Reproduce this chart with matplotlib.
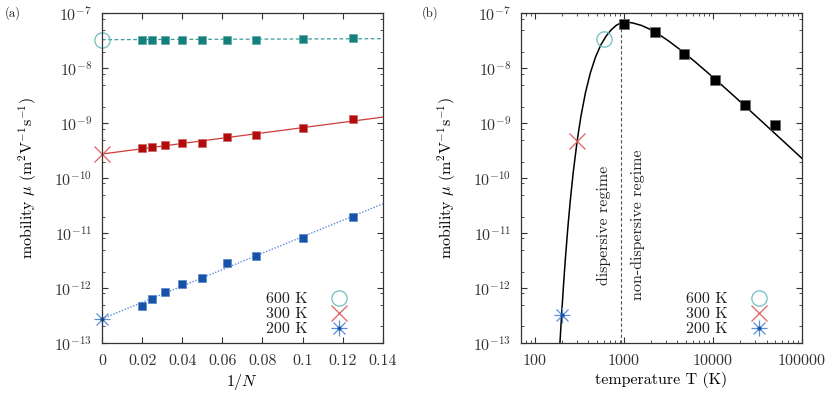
import numpy as np
import matplotlib
matplotlib.use('Agg')
import matplotlib.pyplot as plt
from matplotlib.ticker import NullFormatter, NullLocator, FixedLocator, FixedFormatter
from matplotlib.legend_handler import HandlerTuple
from matplotlib.lines import Line2D

plt.rcParams.update({
    'font.family': 'serif',
    'font.serif': ['cmr10'],
    'mathtext.fontset': 'cm',
    'axes.formatter.use_mathtext': True,
    'font.size': 11.5,
    'axes.linewidth': 0.9,
    'axes.edgecolor': '#333333',
    'text.color': '#222222',
    'xtick.color': '#333333',
    'ytick.color': '#333333',
})

# ---------------- data: panel (a) ----------------
inv_N = [0.02, 0.025, 0.03125, 0.04, 0.05, 0.0625, 0.0769, 0.1, 0.125]
mu_600 = [3.31e-8, 3.31e-8, 3.31e-8, 3.33e-8, 3.27e-8, 3.31e-8, 3.31e-8, 3.45e-8, 3.5e-8]
mu_300 = [3.47e-10, 3.66e-10, 3.96e-10, 4.44e-10, 4.4e-10, 5.5e-10, 6.1e-10, 8.2e-10, 1.17e-9]
mu_200 = [4.7e-13, 6.3e-13, 8.3e-13, 1.2e-12, 1.52e-12, 2.8e-12, 3.8e-12, 8.0e-12, 1.94e-11]
fit_x = [0.0, 0.14]
fit_600 = [3.31e-8, 3.45e-8]
fit_300 = [2.75e-10, 1.29e-9]
fit_200 = [2.75e-13, 3.4e-11]
extrap_600 = 3.25e-8
extrap_300 = 2.75e-10
extrap_200 = 2.75e-13
xtick_vals_a = [0, 0.02, 0.04, 0.06, 0.08, 0.1, 0.12, 0.14]
xtick_labels_a = ['0', '0.02', '0.04', '0.06', '0.08', '0.1', '0.12', '0.14']

# ---------------- data: panel (b) ----------------
T_sim = [1000, 2220, 4790, 10500, 22700, 50000]
mu_sim = [6.4e-8, 4.5e-8, 1.82e-8, 6.1e-9, 2.15e-9, 9.3e-10]
T_marks = [600, 300, 200]
mu_marks = [3.4e-8, 4.8e-10, 3.27e-13]
curve_T = [190, 195, 200, 210, 220, 235, 250, 270, 300, 330, 370, 420, 480, 550,
           630, 720, 820, 871, 933, 1000, 1072, 1148, 1259, 1585, 1995, 2512,
           3162, 4467, 6310, 10000, 15849, 25119, 39811, 63096, 100000]
curve_log_mu = [-13.108, -12.785, -12.485, -11.950, -11.486, -10.900, -10.417,
                -9.896, -9.304, -8.869, -8.449, -8.087, -7.799, -7.579, -7.418,
                -7.302, -7.220, -7.196, -7.178, -7.168, -7.165, -7.167, -7.176,
                -7.222, -7.296, -7.391, -7.501, -7.684, -7.883, -8.163, -8.452,
                -8.747, -9.044, -9.342, -9.641]
T_transition = 940
xtick_vals_b = [100, 1000, 10000, 100000]
xtick_labels_b = ['100', '1000', '10000', '100000']
ytick_exps = [-13, -12, -11, -10, -9, -8, -7]

c_teal_sq = '#13807b'
c_teal_ln = '#3a9c9a'
c_teal_mk = '#6cbfc0'
c_red_sq = '#b00c0c'
c_red_ln = '#d03a3a'
c_red_mk = '#e06060'
c_blue_sq = '#1653a8'
c_blue_ln = '#5a8ad8'
c_blue_mk = '#5b8fd8'

fig = plt.figure(figsize=(8.3, 3.96), dpi=100)
W, H = 830.0, 396.0
axa = fig.add_axes([102 / W, 1 - 343 / H, (382.7 - 102) / W, (343 - 13.3) / H])
axb = fig.add_axes([521 / W, 1 - 343 / H, (802 - 521) / W, (343 - 13.3) / H])

ylabel = r'mobility $\mu$ ($\mathrm{m^2V^{-1}s^{-1}}$)'

y_major = [10.0 ** e for e in ytick_exps]
y_labels = [r'$10^{%d}$' % e for e in ytick_exps]
y_minor = [m * 10.0 ** e for e in ytick_exps[:-1] for m in (2, 5, 8)]

x_minor_b = [m * 10.0 ** e for e in (1, 2, 3, 4) for m in range(2, 10)
             if 70 <= m * 10.0 ** e <= 1e5]


def style_y(ax):
    ax.set_yscale('log')
    ax.set_ylim(1e-13, 1e-7)
    ax.yaxis.set_major_locator(FixedLocator(y_major))
    ax.yaxis.set_major_formatter(FixedFormatter(y_labels))
    ax.yaxis.set_minor_locator(FixedLocator(y_minor))
    ax.yaxis.set_minor_formatter(NullFormatter())
    ax.tick_params(which='both', direction='in', top=True, right=True)
    ax.tick_params(which='major', length=4, width=0.8, pad=7)
    ax.tick_params(which='minor', length=2, width=0.6)
    ax.set_ylabel(ylabel, labelpad=11)


def asterisk(ax, x, y, color, ms=11, **kw):
    ax.plot(x, y, marker='+', ms=ms, mew=0.9, color=color, ls='none', **kw)
    ax.plot(x, y, marker='x', ms=ms * 0.8, mew=0.9, color=color, ls='none', **kw)
    ax.plot(x, y, marker='o', ms=2, color='#1653a8', ls='none', **kw)


def legend(ax, anchor):
    h1 = Line2D([], [], marker='o', ms=11, mfc='none', mec=c_teal_mk, mew=0.9, ls='none')
    h2 = Line2D([], [], marker='x', ms=11, mec=c_red_mk, mew=0.9, ls='none')
    h3a = Line2D([], [], marker='+', ms=11, mec=c_blue_mk, mew=0.9, ls='none')
    h3b = Line2D([], [], marker='x', ms=8.8, mec=c_blue_mk, mew=0.9, ls='none')
    h3c = Line2D([], [], marker='o', ms=2, mec='#1653a8', mfc='#1653a8', ls='none')
    ax.legend([h1, h2, (h3a, h3b, h3c)], ['600 K', '300 K', '200 K'],
              handler_map={tuple: HandlerTuple(ndivide=1)},
              loc='lower right', bbox_to_anchor=anchor, frameon=False,
              markerfirst=False, borderaxespad=0, borderpad=0,
              handlelength=1.0, handletextpad=1.45, labelspacing=0.05,
              fontsize=11.5)


# ---------------- panel (a) ----------------
axa.plot(fit_x, fit_600, ls=(0, (3, 2)), color=c_teal_ln, lw=0.9)
axa.plot(fit_x, fit_300, ls='-', color=c_red_ln, lw=0.9)
axa.plot(fit_x, fit_200, ls=(0, (1, 1.2)), color=c_blue_ln, lw=1.0)
axa.plot(inv_N, mu_600, 's', color=c_teal_sq, ms=5.3, mec='#5aa8a4', mew=0.5)
axa.plot(inv_N, mu_300, 's', color=c_red_sq, ms=5.3, mec='#d06060', mew=0.5)
axa.plot(inv_N, mu_200, 's', color=c_blue_sq, ms=5.3, mec='#5a86c8', mew=0.5)
axa.plot([0], [extrap_600], 'o', ms=11, mfc='none', mec=c_teal_mk, mew=0.9, clip_on=False)
axa.plot([0], [extrap_300], 'x', ms=11, mec=c_red_mk, mew=0.9, clip_on=False)
asterisk(axa, [0], [extrap_200], c_blue_mk, clip_on=False)
axa.set_xlim(0, 0.14)
axa.xaxis.set_major_locator(FixedLocator(xtick_vals_a))
axa.xaxis.set_major_formatter(FixedFormatter(xtick_labels_a))
axa.xaxis.set_minor_locator(NullLocator())
style_y(axa)
axa.tick_params(axis='x', pad=8)
axa.set_xlabel(r'$1/N$', labelpad=3)
legend(axa, ((347 - 102) / 280.7, 0.02))

# ---------------- panel (b) ----------------
curve_mu = [10 ** v for v in curve_log_mu]
axb.plot(curve_T, curve_mu, '-', color='black', lw=1.1)
axb.vlines(T_transition, 1e-13, 6.7e-8, colors='#555555', linestyles=(0, (3, 2)), lw=0.8)
axb.plot(T_sim, mu_sim, 's', color='black', ms=6.5, mec='#666666', mew=0.5)
axb.plot([T_marks[0]], [mu_marks[0]], 'o', ms=11, mfc='none', mec=c_teal_mk, mew=0.9)
axb.plot([T_marks[1]], [mu_marks[1]], 'x', ms=11, mec=c_red_mk, mew=0.9)
asterisk(axb, [T_marks[2]], [mu_marks[2]], c_blue_mk)
axb.set_xscale('log')
axb.set_xlim(70, 1e5)
axb.xaxis.set_major_locator(FixedLocator(xtick_vals_b))
axb.xaxis.set_major_formatter(FixedFormatter(xtick_labels_b))
axb.xaxis.set_minor_locator(FixedLocator(x_minor_b))
axb.xaxis.set_minor_formatter(NullFormatter())
style_y(axb)
axb.tick_params(axis='x', pad=8)
axb.set_xlabel('temperature T (K)', labelpad=3)
axb.text(590, 1.4e-11, 'dispersive regime', rotation=90, ha='center', va='center')
axb.text(1419, 1.4e-11, 'non-dispersive regime', rotation=90, ha='center', va='center')
legend(axb, ((767 - 521) / 281.0, 0.02))

fig.text(5 / W, 1 - 13 / H, '(a)', fontsize=9, ha='left', va='center')
fig.text(422 / W, 1 - 13 / H, '(b)', fontsize=9, ha='left', va='center')

fig.savefig('out.png', dpi=100)
